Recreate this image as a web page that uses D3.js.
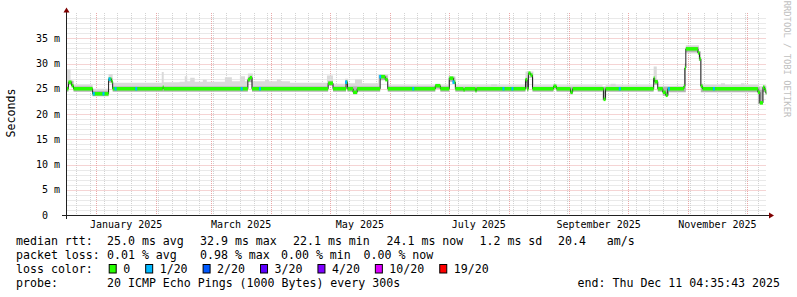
<!DOCTYPE html>
<html>
<head>
<meta charset="utf-8">
<script src="https://cdn.jsdelivr.net/npm/d3@7"></script>
<style>
  body { margin: 0; background: #fff; }
  svg { display: block; }
  text { font-family: "DejaVu Sans Mono", monospace; fill: #000; }
</style>
</head>
<body>
<svg id="chart" width="797" height="297"></svg>
<script>
// time window of the graph (360 day smokeping view)
const startDate = new Date(2024, 11, 16, 21, 0, 0);
const endDate = new Date(2025, 11, 11, 4, 35, 43);

// median rtt in ms, [days since start, value], value holds until next point
const medianPts = [
  [0, 25.0], [1.0, 26.3], [2.6, 25.6], [3.6, 25.0], [13.4, 24.0], [21.6, 26.9], [23.1, 26.4], [23.7, 25.0],
  [49.4, 25.3], [49.9, 25.0],
  [93.1, 26.8], [94.1, 27.2], [95.2, 25.0],
  [134.3, 26.1], [136.8, 25.0],
  [143.5, 26.3], [144.2, 25.0], [147.1, 24.3], [149.2, 25.0],
  [161.0, 27.4], [163.6, 26.8], [164.9, 25.0],
  [189.3, 25.6], [191.9, 25.0],
  [196.5, 27.1], [198.6, 26.3], [199.6, 25.0],
  [203.7, 24.8], [204.5, 25.0], [209.9, 24.6], [210.5, 25.0],
  [235.6, 26.8], [236.4, 25.0], [237.1, 28.1], [238.2, 27.7], [239.2, 25.0],
  [250.0, 25.5], [251.5, 25.0],
  [258.7, 24.3], [259.8, 25.0],
  [275.7, 22.9], [276.7, 25.0],
  [301.4, 27.1], [301.9, 26.4], [303.5, 25.0],
  [306.1, 24.3], [307.6, 23.7], [308.6, 25.0],
  [316.9, 25.5], [317.4, 29.1], [317.9, 32.9], [324.1, 32.1], [324.9, 30.9], [325.6, 25.5], [326.5, 25.0],
  [354.9, 24.3], [355.9, 22.2], [357.5, 25.3], [358.3, 24.8], [359.0, 24.1]
];

// smoke: bottom of dark band, top of dark band, top of light band (ms)
const smokeLow = [
  [0, 24.4], [1.0, 25.8], [3.6, 24.4], [13.4, 23.5], [21.6, 26.2], [23.7, 24.4],
  [93.1, 26.3], [95.2, 24.4], [134.3, 25.6], [136.8, 24.4], [143.5, 25.8], [144.2, 24.4],
  [147.1, 23.9], [149.2, 24.4], [161.0, 26.7], [164.9, 24.4], [189.3, 25.0], [191.9, 24.4],
  [196.5, 26.4], [199.6, 24.4], [235.6, 26.2], [236.4, 24.4], [237.1, 27.3], [239.2, 24.4],
  [250.0, 25.0], [251.5, 24.4], [258.7, 23.9], [259.8, 24.4],
  [275.2, 22.7], [276.7, 24.4], [301.4, 25.8], [303.5, 24.4], [306.1, 23.6], [309.2, 24.3],
  [317.9, 32.2], [324.6, 30.5], [325.6, 24.3],
  [354.9, 22.0], [357.5, 24.3], [359.0, 23.8]
];
const smokeMid = [
  [0, 25.5], [1.0, 26.6], [3.6, 25.5], [13.4, 24.6], [21.6, 27.2], [23.7, 25.5], [93.1, 27.4], [95.7, 25.5],
  [134.3, 26.5], [136.8, 25.5], [143.5, 26.6], [144.5, 25.5], [161.0, 27.6], [164.9, 25.5],
  [196.5, 27.3], [199.6, 25.4], [235.6, 27.2], [239.7, 25.4], [301.4, 26.8], [303.5, 25.4],
  [317.4, 30.0], [317.9, 33.3], [324.6, 32.4], [325.6, 26.0], [326.5, 25.4],
  [355.9, 24.8], [357.5, 25.5]
];
const smokeHigh = [
  [0, 28.8], [2.1, 25.8], [13.4, 25.0], [21.6, 27.9], [23.7, 26.2], [48.9, 28.3], [49.9, 26.3],
  [58.1, 26.4], [60.7, 27.5], [62.0, 26.5], [63.5, 27.2], [65.8, 26.4], [70.0, 26.8], [72.0, 26.4],
  [81.3, 27.3], [84.9, 26.5], [89.0, 27.5], [91.6, 26.5], [93.1, 28.0], [95.7, 26.5],
  [101.9, 26.8], [104.0, 26.5], [108.0, 26.9], [110.0, 26.5], [114.7, 26.2],
  [133.7, 27.6], [136.8, 26.0], [143.0, 27.0], [144.5, 26.1], [148.1, 26.9], [151.7, 26.1],
  [160.0, 27.8], [165.1, 25.7], [189.3, 26.0], [191.9, 25.7], [196.0, 27.5], [199.6, 25.7],
  [218.0, 25.9], [221.0, 25.7], [235.6, 28.4], [239.7, 25.7], [250.0, 26.0], [251.5, 25.7],
  [275.2, 25.3], [276.7, 25.7], [279.3, 26.0], [281.9, 25.7], [301.4, 29.4], [303.0, 25.6],
  [316.9, 26.0], [317.9, 33.6], [324.6, 32.5], [325.6, 31.2], [326.1, 25.8], [335.9, 26.1],
  [338.0, 25.8], [346.2, 26.1], [348.0, 25.8], [354.9, 25.5], [357.5, 25.7]
];

// packet loss per sample, [day, loss level index]
const lossPts = [
  [14.0, 1], [19.0, 1], [22.1, 1], [25.2, 1], [35.8, 1], [89.9, 1], [99.3, 1], [143.5, 1],
  [161.0, 1], [178.0, 1], [198.6, 1], [224.3, 1], [228.9, 1], [284.0, 1], [309.2, 1], [332.3, 1]
];

const yTickValues = [0, 5, 10, 15, 20, 25, 30, 35];
const yTickLabels = ["0", "5 m", "10 m", "15 m", "20 m", "25 m", "30 m", "35 m"];
const xLabelMonths = [0, 2, 4, 6, 8, 10];
const xTickLabels = ["January 2025", "March 2025", "May 2025", "July 2025", "September 2025", "November 2025"];

const lossLevels = ["0", "1/20", "2/20", "3/20", "4/20", "10/20", "19/20"];
const lossColors = ["#26ff00", "#00b8ff", "#0059ff", "#5e00ff", "#7e00ff", "#dd00ff", "#ff0000"];

const medianStats = ["25.0 ms avg", "32.9 ms max", "22.1 ms min", "24.1 ms now", "1.2 ms sd", "20.4   am/s"];
const lossStats = ["0.01 % avg", "0.98 % max", "0.00 % min", "0.00 % now"];
const probeText = "20 ICMP Echo Pings (1000 Bytes) every 300s";
const endText = "end: Thu Dec 11 04:35:43 2025";

const DAY = 864e5;
const SPAN = (endDate - startDate) / DAY;
const toDate = d => new Date(+startDate + d * DAY);

const svg = d3.select("#chart");
const plotL = 66.5, plotR = 766.5, plotT = 13, plotB = 215;

const x = d3.scaleTime().domain([startDate, endDate]).range([plotL, plotR]);
const y = d3.scaleLinear().domain([0, 40]).range([plotB, plotT]);
const px = v => Math.round(v) + 0.5;

// grid
const grid = svg.append("g");
d3.range(1, 40).filter(v => v % 5 !== 0).forEach(v => {
  grid.append("line").attr("x1", plotL).attr("x2", plotR).attr("y1", px(y(v))).attr("y2", px(y(v)))
    .attr("stroke", "#d2d2d2").attr("stroke-dasharray", "1,1");
});
d3.timeSunday.range(startDate, endDate).forEach(t => {
  grid.append("line").attr("x1", px(x(t))).attr("x2", px(x(t))).attr("y1", plotT).attr("y2", plotB)
    .attr("stroke", "#d2d2d2").attr("stroke-dasharray", "1,1");
});
yTickValues.filter(v => v > 0).forEach(v => {
  grid.append("line").attr("x1", plotL).attr("x2", plotR).attr("y1", px(y(v))).attr("y2", px(y(v)))
    .attr("stroke", "#eaa8a8").attr("stroke-dasharray", "1,1");
});
d3.timeMonth.range(d3.timeMonth.ceil(startDate), endDate).forEach(t => {
  grid.append("line").attr("x1", px(x(t))).attr("x2", px(x(t))).attr("y1", plotT).attr("y2", plotB)
    .attr("stroke", "#eaa8a8").attr("stroke-dasharray", "1,1");
});

// plot contents
svg.append("clipPath").attr("id", "plot")
  .append("rect").attr("x", plotL).attr("y", plotT).attr("width", plotR - plotL).attr("height", plotB - plotT);
const plot = svg.append("g").attr("clip-path", "url(#plot)");

const stepAt = (pts, d) => {
  const i = d3.bisectRight(pts.map(p => p[0]), d) - 1;
  return pts[Math.max(0, i)][1];
};
const band = (lo, hi) => {
  const days = Array.from(new Set(lo.concat(hi).map(p => p[0]).concat([SPAN]))).sort((a, b) => a - b);
  return days.map(d => ({d: d, lo: stepAt(lo, d), hi: stepAt(hi, d)}));
};
const area = d3.area().curve(d3.curveStepAfter)
  .x(p => x(toDate(p.d))).y0(p => y(p.lo)).y1(p => y(p.hi));

plot.append("path").attr("d", area(band(smokeMid, smokeHigh))).attr("fill", "#dadada");
plot.append("path").attr("d", area(band(smokeLow, smokeMid))).attr("fill", "#b4b4b4");

const medianAll = medianPts.concat([[SPAN, medianPts[medianPts.length - 1][1]]]);
const line = d3.line().curve(d3.curveStepAfter)
  .x(p => x(toDate(p[0]))).y(p => y(p[1]));
plot.append("path").attr("d", line(medianAll)).attr("fill", "none")
  .attr("stroke", "#202020").attr("stroke-width", 1);

const barH = 3.5;
plot.selectAll(".med").data(d3.pairs(medianAll)).enter().append("rect")
  .attr("x", p => x(toDate(p[0][0])))
  .attr("width", p => x(toDate(p[1][0])) - x(toDate(p[0][0])))
  .attr("y", p => y(p[0][1]) - barH / 2)
  .attr("height", barH)
  .attr("fill", lossColors[0]);

plot.selectAll(".loss").data(lossPts).enter().append("rect")
  .attr("x", p => x(toDate(p[0])) - 1)
  .attr("width", 2)
  .attr("y", p => y(stepAt(medianPts, p[0])) - barH / 2)
  .attr("height", barH)
  .attr("fill", p => lossColors[p[1]]);

// axes
const axis = svg.append("g");
axis.append("line").attr("x1", 62).attr("x2", 771).attr("y1", plotB + 0.5).attr("y2", plotB + 0.5)
  .attr("stroke", "#202020");
axis.append("line").attr("x1", plotL).attr("x2", plotL).attr("y1", 219).attr("y2", 9)
  .attr("stroke", "#202020");
axis.append("path").attr("d", `M${plotL - 3},12.5 L${plotL + 3},12.5 L${plotL},7.5 Z`).attr("fill", "#7f0000");
axis.append("path").attr("d", `M769,${plotB - 2.5} L769,${plotB + 3.5} L774,${plotB + 0.5} Z`).attr("fill", "#7f0000");

yTickValues.forEach((v, i) => {
  axis.append("text").attr("x", 60).attr("y", y(v) + 3.5).attr("text-anchor", "end")
    .attr("xml:space", "preserve").style("white-space", "pre").style("font-size", "10px")
    .text(yTickLabels[i].indexOf(" ") < 0 ? yTickLabels[i] + "  " : yTickLabels[i]);
});
xLabelMonths.forEach((m, i) => {
  const a = new Date(2025, m, 1), b = new Date(2025, m + 1, 1);
  axis.append("text").attr("x", (x(a) + x(b)) / 2).attr("y", 228).attr("text-anchor", "middle")
    .style("font-size", "10px").text(xTickLabels[i]);
});

svg.append("text").attr("transform", "translate(15,113) rotate(-90)").attr("text-anchor", "middle")
  .style("font-size", "11.6px").text("Seconds");

svg.append("text").attr("transform", "translate(784,59) rotate(90)").attr("text-anchor", "middle")
  .style("font-size", "8.8px").style("fill", "#c0c0c0").text("RRDTOOL / TOBI OETIKER");

// legend
const leg = svg.append("g").style("font-size", "11.6px");
const rows = [245, 259, 272.8, 286.5];
const medianX = [107, 200, 293, 386.5, 479.5, 558];
const lossX = [107, 200, 281, 363.5];
leg.append("text").attr("x", 16).attr("y", rows[0]).text("median rtt:");
medianStats.forEach((s, i) => leg.append("text").attr("x", medianX[i]).attr("y", rows[0])
  .attr("xml:space", "preserve").style("white-space", "pre").text(s));
leg.append("text").attr("x", 16).attr("y", rows[1]).text("packet loss:");
lossStats.forEach((s, i) => leg.append("text").attr("x", lossX[i]).attr("y", rows[1]).text(s));
leg.append("text").attr("x", 16).attr("y", rows[2]).text("loss color:");
const cw = 6.98;
let bx = 108.7;
lossLevels.forEach((s, i) => {
  leg.append("rect").attr("x", bx + 0.5).attr("y", 264.5).attr("width", 7).attr("height", 8.5)
    .attr("fill", lossColors[i]).attr("stroke", "#000").attr("stroke-width", 1);
  leg.append("text").attr("x", bx + 14.5).attr("y", rows[2]).text(s);
  bx = bx + 14.5 + s.length * cw + 15;
});
leg.append("text").attr("x", 16).attr("y", rows[3]).text("probe:");
leg.append("text").attr("x", 107).attr("y", rows[3]).text(probeText);
leg.append("text").attr("x", 780).attr("y", rows[3]).attr("text-anchor", "end").text(endText);
</script>
</body>
</html>
